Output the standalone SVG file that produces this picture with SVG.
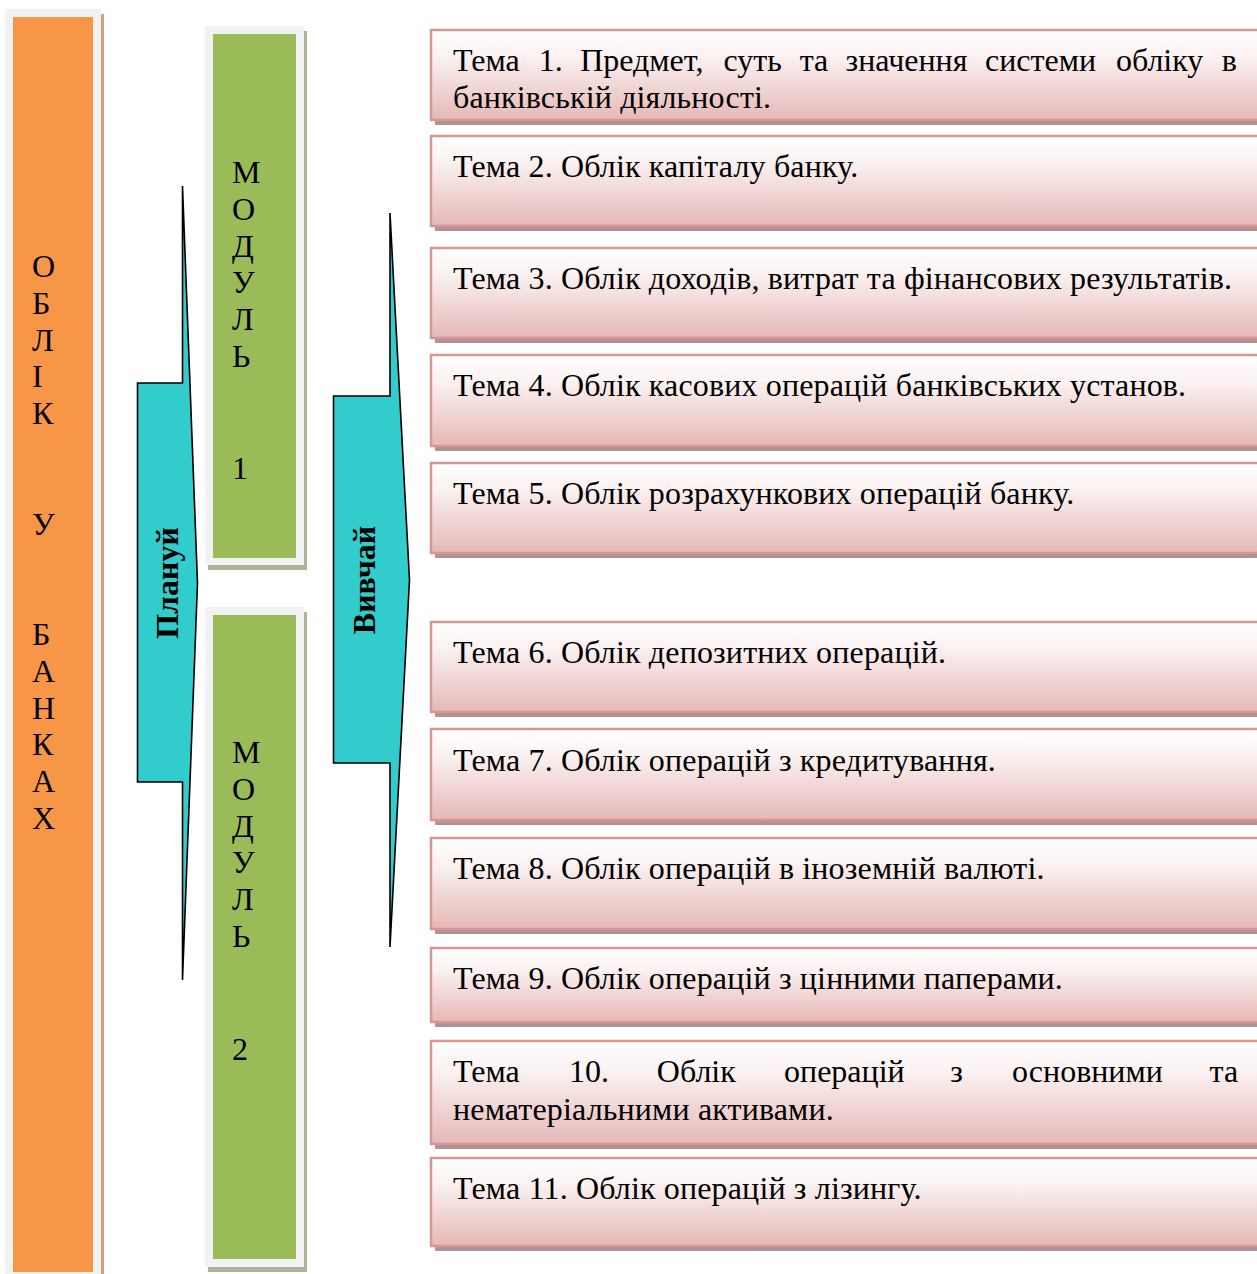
<svg xmlns="http://www.w3.org/2000/svg" width="1257" height="1274" viewBox="0 0 1257 1274">
<defs>
<linearGradient id="pinkGrad" x1="0" y1="0" x2="0" y2="1">
<stop offset="0" stop-color="#FFFFFF"/>
<stop offset="0.3" stop-color="#FBF1F1"/>
<stop offset="1" stop-color="#E5B8B7"/>
</linearGradient>
<style>
.t{font-family:"Liberation Serif","Times New Roman",serif;font-size:32px;fill:#000}
.ls{letter-spacing:0.15px}
.b{font-weight:bold}
.frame{fill:#F2F2F2}
.orange{fill:#F79646}
.oshadow{fill:#CFA382}
.green{fill:#9BBB59}
.gshadow{fill:#AAB595}
.box{fill:url(#pinkGrad);stroke:#D99594;stroke-width:2.5}
.bshadow{fill:#B09292}
.arrow{fill:#33CCCC;stroke:#000;stroke-width:1.6;stroke-linejoin:miter}
</style>
</defs>
<rect width="1257" height="1274" fill="#FFFFFF"/>

<g id="node-oblik">
<rect class="oshadow" x="8" y="14" width="96" height="1270"/>
<rect class="frame" x="5" y="9" width="96" height="1275"/>
<rect class="orange" x="13" y="17" width="80" height="1255"/>
<text class="t" x="32">
<tspan x="32" y="277">О</tspan>
<tspan x="32" y="313.8">Б</tspan>
<tspan x="32" y="350.6">Л</tspan>
<tspan x="32" y="387.4">І</tspan>
<tspan x="32" y="424.2">К</tspan>
<tspan x="32" y="534.6">У</tspan>
<tspan x="32" y="645">Б</tspan>
<tspan x="32" y="681.8">А</tspan>
<tspan x="32" y="718.6">Н</tspan>
<tspan x="32" y="755.4">К</tspan>
<tspan x="32" y="792.2">А</tspan>
<tspan x="32" y="829">Х</tspan>
</text>
</g>

<g id="node-module1">
<rect class="gshadow" x="208" y="31" width="99" height="539"/>
<rect class="frame" x="205" y="26" width="99" height="539"/>
<rect class="green" x="213" y="34" width="83" height="524"/>
<text class="t">
<tspan x="232" y="183">М</tspan>
<tspan x="232" y="219.8">О</tspan>
<tspan x="232" y="256.6">Д</tspan>
<tspan x="232" y="293.4">У</tspan>
<tspan x="232" y="330.2">Л</tspan>
<tspan x="232" y="367">Ь</tspan>
<tspan x="232" y="479">1</tspan>
</text>
</g>

<g id="node-module2">
<rect class="gshadow" x="208" y="612" width="99" height="660"/>
<rect class="frame" x="205" y="607" width="99" height="660"/>
<rect class="green" x="213" y="615" width="83" height="644"/>
<text class="t">
<tspan x="232" y="763">М</tspan>
<tspan x="232" y="799.8">О</tspan>
<tspan x="232" y="836.6">Д</tspan>
<tspan x="232" y="873.4">У</tspan>
<tspan x="232" y="910.2">Л</tspan>
<tspan x="232" y="947">Ь</tspan>
<tspan x="232" y="1060">2</tspan>
</text>
</g>

<g id="connectors">
<g id="arrow-plan">
<path class="arrow" d="M182.5,186 L182.5,383 L137.5,383 L137.5,782 L182.5,782 L182.5,980 L197.5,583 Z"/>
<text class="t b" text-anchor="middle" transform="translate(177.5,583) rotate(-90)">Плануй</text>
</g>
<g id="arrow-study">
<path class="arrow" d="M390,213 L390,396 L333.5,396 L333.5,763 L390,763 L390,947 L409.5,580 Z"/>
<text class="t b" text-anchor="middle" transform="translate(374.5,580) rotate(-90)">Вивчай</text>
</g>
</g>

<g id="node-t1">
<rect class="bshadow" x="435" y="34" width="840" height="91"/>
<rect class="box" x="431" y="30" width="840" height="90"/>
<text class="t" y="71"><tspan x="453">Тема</tspan><tspan x="538.7">1.</tspan><tspan x="580.2">Предмет,</tspan><tspan x="723.5">суть</tspan><tspan x="799.7">та</tspan><tspan x="845.5">значення</tspan><tspan x="985">системи</tspan><tspan x="1115.9">обліку</tspan><tspan x="1221.7">в</tspan></text>
<text class="t ls" x="453" y="107.8">банківській діяльності.</text>
</g>

<g id="node-t2">
<rect class="bshadow" x="435" y="140" width="840" height="91"/>
<rect class="box" x="431" y="136" width="840" height="90"/>
<text class="t ls" x="453" y="177">Тема 2. Облік капіталу банку.</text>
</g>

<g id="node-t3">
<rect class="bshadow" x="435" y="252" width="840" height="91"/>
<rect class="box" x="431" y="248" width="840" height="90"/>
<text class="t ls" x="453" y="289">Тема 3. Облік доходів, витрат та фінансових результатів.</text>
</g>

<g id="node-t4">
<rect class="bshadow" x="435" y="359" width="840" height="92"/>
<rect class="box" x="431" y="355" width="840" height="91"/>
<text class="t ls" x="453" y="396">Тема 4. Облік касових операцій банківських установ.</text>
</g>

<g id="node-t5">
<rect class="bshadow" x="435" y="467" width="840" height="91"/>
<rect class="box" x="431" y="463" width="840" height="90"/>
<text class="t ls" x="453" y="504">Тема 5. Облік розрахункових операцій банку.</text>
</g>

<g id="node-t6">
<rect class="bshadow" x="435" y="626" width="840" height="91"/>
<rect class="box" x="431" y="622" width="840" height="90"/>
<text class="t ls" x="453" y="663">Тема 6. Облік депозитних операцій.</text>
</g>

<g id="node-t7">
<rect class="bshadow" x="435" y="733" width="840" height="92"/>
<rect class="box" x="431" y="729" width="840" height="91"/>
<text class="t ls" x="453" y="771">Тема 7. Облік операцій з кредитування.</text>
</g>

<g id="node-t8">
<rect class="bshadow" x="435" y="842" width="840" height="92"/>
<rect class="box" x="431" y="838" width="840" height="91"/>
<text class="t ls" x="453" y="879">Тема 8. Облік операцій в іноземній валюті.</text>
</g>

<g id="node-t9">
<rect class="bshadow" x="435" y="952" width="840" height="75"/>
<rect class="box" x="431" y="948" width="840" height="74"/>
<text class="t ls" x="453" y="989">Тема 9. Облік операцій з цінними паперами.</text>
</g>

<g id="node-t10">
<rect class="bshadow" x="435" y="1045" width="840" height="104"/>
<rect class="box" x="431" y="1041" width="840" height="103"/>
<text class="t" y="1082"><tspan x="453">Тема</tspan><tspan x="569">10.</tspan><tspan x="656.8">Облік</tspan><tspan x="784">операцій</tspan><tspan x="950.2">з</tspan><tspan x="1012">основними</tspan><tspan x="1209.5">та</tspan></text>
<text class="t ls" x="453" y="1119.5">нематеріальними активами.</text>
</g>

<g id="node-t11">
<rect class="bshadow" x="435" y="1162" width="840" height="89"/>
<rect class="box" x="431" y="1158" width="840" height="88"/>
<text class="t ls" x="453" y="1199">Тема 11. Облік операцій з лізингу.</text>
</g>
</svg>
